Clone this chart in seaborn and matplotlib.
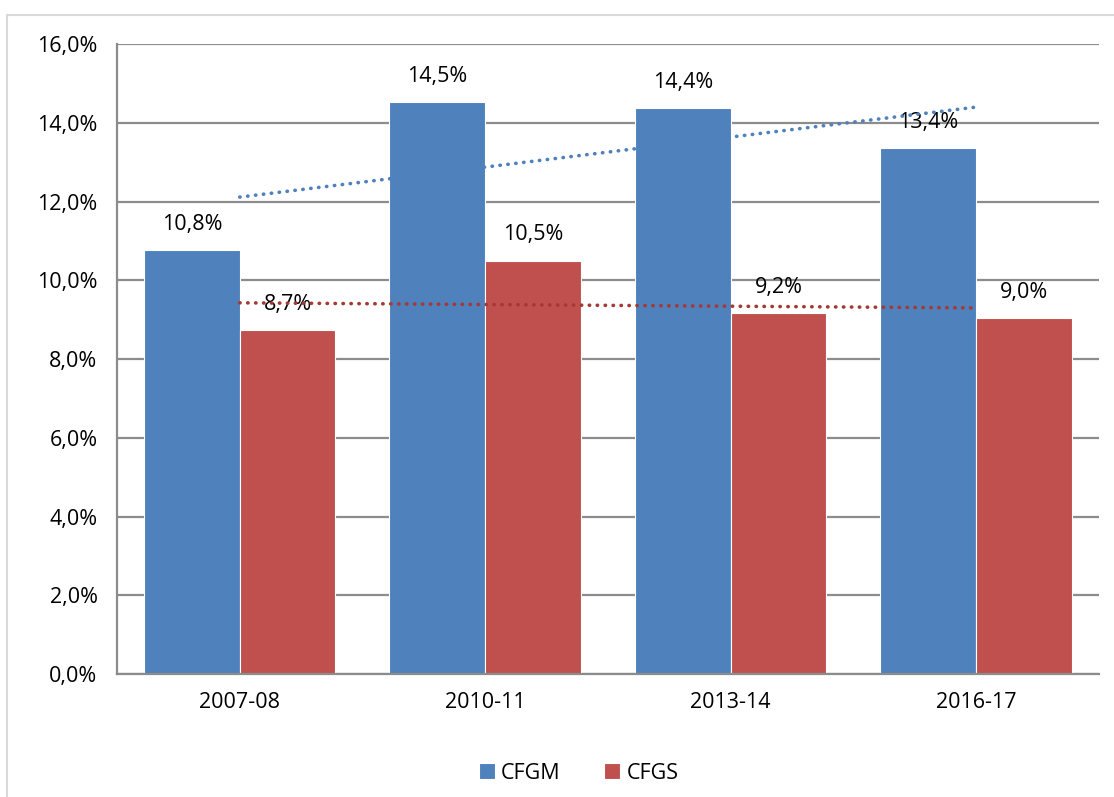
import numpy as np
import pandas as pd
import seaborn as sb
import matplotlib.pyplot as plt
from matplotlib.patches import Rectangle

# data
years = ["2007-08", "2010-11", "2013-14", "2016-17"]
cfgm = [10.76, 14.53, 14.38, 13.35]
cfgs = [8.74, 10.50, 9.17, 9.04]
cfgm_labels = ["10,8%", "14,5%", "14,4%", "13,4%"]
cfgs_labels = ["8,7%", "10,5%", "9,2%", "9,0%"]

blue = "#4F81BD"
red = "#C0504D"
grid_col = "#8C8C8C"

df = pd.DataFrame({
    "year": years * 2,
    "value": cfgm + cfgs,
    "serie": ["CFGM"] * 4 + ["CFGS"] * 4,
})

sb.set_style("white")
plt.rcParams['font.family'] = ['Open Sans', 'DejaVu Sans']
plt.rcParams['text.color'] = 'black'
plt.rcParams['xtick.labelcolor'] = 'black'
plt.rcParams['ytick.labelcolor'] = 'black'

fig = plt.figure(figsize=(11.14, 7.97), dpi=100)
ax = fig.add_axes([0.105, 0.1543, 0.8815, 0.7905])

sb.barplot(data=df, x="year", y="value", hue="serie", palette=[blue, red],
           width=0.78, gap=0, saturation=1, ax=ax, legend=True)

# white thin edge like the original
for p in ax.patches:
    p.set_edgecolor("white")
    p.set_linewidth(0.8)

# data labels
fs = 15.5
for i in range(len(years)):
    ax.annotate(cfgm_labels[i], (i - 0.195, cfgm[i]), xytext=(0, 11),
                textcoords="offset points", ha="center", va="bottom", fontsize=fs, color="black")
    ax.annotate(cfgs_labels[i], (i + 0.195, cfgs[i]), xytext=(0, 11),
                textcoords="offset points", ha="center", va="bottom", fontsize=fs, color="black")

# linear trend lines
xs = np.arange(len(years))
for vals, col in [(cfgm, blue), (cfgs, "#A33A36")]:
    k, b = np.polyfit(xs, vals, 1)
    ax.plot(xs, k * xs + b, color=col, linewidth=2.6,
            linestyle=(0, (0.1, 2.1)), dash_capstyle="round", zorder=5)

ax.set_ylim(0, 16)
ax.set_xlim(-0.5, 3.5)
ax.set_yticks(np.arange(0, 17, 2))
ax.set_yticklabels([f"{v:.1f}%".replace(".", ",") for v in np.arange(0, 17, 2)])
ax.yaxis.grid(True, color=grid_col, linewidth=1.6)
ax.set_axisbelow(True)

# x ticks at category borders, labels at the centres
ax.set_xticks(np.arange(-0.5, 4, 1))
ax.set_xticklabels([])
ax.set_xticks(xs, minor=True)
ax.set_xticklabels(years, minor=True)
ax.tick_params(axis="x", which="major", length=8, width=1.6, color=grid_col, direction="out")
ax.tick_params(axis="x", which="minor", length=0, pad=13, labelsize=fs)
ax.tick_params(axis="y", length=9, width=1.6, color=grid_col, direction="out", labelsize=fs, pad=5)

ax.set_xlabel("")
ax.set_ylabel("")
for s in ["top", "right"]:
    ax.spines[s].set_visible(False)
for s in ["left", "bottom"]:
    ax.spines[s].set_color(grid_col)
    ax.spines[s].set_linewidth(1.6)

leg = ax.legend(loc="lower center", bbox_to_anchor=(0.47, -0.205), ncol=2, frameon=False,
                fontsize=fs, handlelength=0.75, handleheight=0.75, handletextpad=0.3,
                columnspacing=2.0, title=None)

# light frame round the whole chart
fig.patches.append(Rectangle((0.006, -0.01), 1.0, 0.991, transform=fig.transFigure,
                             fill=False, edgecolor="#D9D9D9", linewidth=1.5))

fig.savefig("out.png", dpi=100)
